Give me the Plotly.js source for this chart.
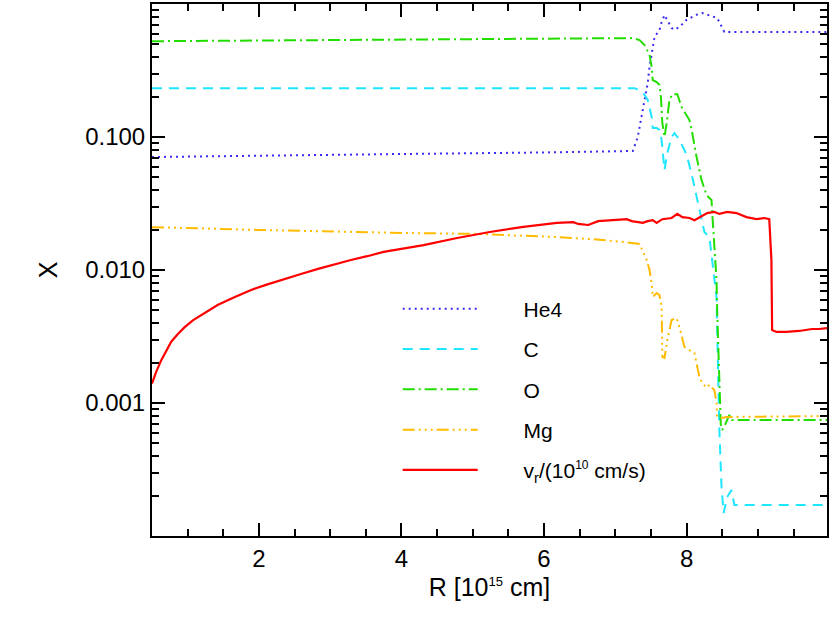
<!DOCTYPE html>
<html>
<head>
<meta charset="utf-8">
<script src="https://cdn.plot.ly/plotly-3.0.1.min.js"></script>
<style>html,body{margin:0;padding:0;background:#fff;}#chart{width:830px;height:624px;}</style>
</head>
<body>
<div id="chart"></div>
<script>
// ---- data ----
const seriesNames = ["He4", "C", "O", "Mg", "v<sub>r</sub>/(10<sup><span style=\"font-size:12px\">10</span></sup> cm/s)"];

const he4X = [0.5, 2, 4, 6, 7.0, 7.245, 7.315, 7.37, 7.41, 7.455, 7.48, 7.52, 7.55, 7.62, 7.65, 7.69, 7.73, 7.79, 7.83, 7.90, 8.0, 8.14, 8.22, 8.32, 8.43, 8.53, 9.98];
const he4Y = [0.0707, 0.0725, 0.0745, 0.0765, 0.078, 0.0785, 0.1, 0.141, 0.19, 0.255, 0.336, 0.451, 0.565, 0.638, 0.733, 0.826, 0.759, 0.66, 0.64, 0.671, 0.76, 0.83, 0.855, 0.82, 0.785, 0.617, 0.617];

const cX = [0.5, 7.27, 7.385, 7.455, 7.51, 7.525, 7.58, 7.62, 7.65, 7.69, 7.73, 7.79, 7.83, 7.90, 7.97, 8.01, 8.08, 8.15, 8.18, 8.25, 8.32, 8.36, 8.42, 8.43, 8.44, 8.46, 8.49, 8.52, 8.57, 8.63, 8.67, 9.98];
const cY = [0.233, 0.233, 0.218, 0.19, 0.141, 0.117, 0.117, 0.113, 0.095, 0.0565, 0.0758, 0.1, 0.107, 0.095, 0.0798, 0.0707, 0.05, 0.0336, 0.0298, 0.0193, 0.0177, 0.0113, 0.00627, 0.00336, 0.00149, 0.000627, 0.000233, 0.000149, 0.000196, 0.000222, 0.000171, 0.000171];

const oX = [0.5, 2, 4, 6, 7.0, 7.245, 7.34, 7.41, 7.48, 7.51, 7.525, 7.58, 7.62, 7.64, 7.66, 7.69, 7.72, 7.76, 7.80, 7.87, 7.93, 8.0, 8.04, 8.08, 8.14, 8.21, 8.28, 8.32, 8.35, 8.36, 8.39, 8.42, 8.43, 8.46, 8.48, 8.50, 8.54, 8.60, 8.64, 9.98];
const oY = [0.525, 0.53, 0.538, 0.547, 0.552, 0.554, 0.536, 0.492, 0.414, 0.336, 0.268, 0.259, 0.246, 0.2, 0.127, 0.1, 0.127, 0.19, 0.21, 0.21, 0.168, 0.146, 0.134, 0.107, 0.0707, 0.0475, 0.0366, 0.0348, 0.0336, 0.0268, 0.0149, 0.0084, 0.00475, 0.00149, 0.000684, 0.000627, 0.000684, 0.000813, 0.000745, 0.000745];

const mgX = [0.5, 2, 4, 5.01, 6.18, 6.5, 6.64, 7.1, 7.34, 7.44, 7.48, 7.51, 7.525, 7.58, 7.62, 7.65, 7.66, 7.69, 7.73, 7.79, 7.86, 7.90, 7.97, 8.04, 8.11, 8.15, 8.18, 8.22, 8.28, 8.32, 8.39, 8.42, 8.43, 8.49, 8.56, 9.98];
const mgY = [0.021, 0.0200, 0.019, 0.0187, 0.0177, 0.0174, 0.0171, 0.0163, 0.0157, 0.0119, 0.01, 0.00798, 0.00627, 0.00671, 0.00649, 0.00527, 0.00222, 0.00218, 0.00298, 0.00421, 0.00435, 0.00372, 0.00264, 0.0025, 0.00238, 0.00187, 0.00157, 0.00141, 0.0013, 0.00137, 0.00125, 0.001, 0.000785, 0.000772, 0.000785, 0.000798];

const vrX = [0.5, 0.56, 0.63, 0.70, 0.77, 0.863, 0.955, 1.073, 1.19, 1.305, 1.42, 1.655, 1.89, 2.12, 2.35, 2.59, 2.83, 3.05, 3.29, 3.52, 3.75, 4.31, 4.78, 5.24, 5.71, 6.18, 6.41, 6.48, 6.62, 6.76, 6.92, 7.16, 7.23, 7.34, 7.385, 7.455, 7.525, 7.58, 7.66, 7.79, 7.87, 7.94, 8.04, 8.11, 8.18, 8.29, 8.39, 8.46, 8.57, 8.70, 8.84, 8.98, 9.09, 9.16, 9.19, 9.20, 9.26, 9.40, 9.58, 9.76, 9.86, 9.97];
const vrY = [0.0014, 0.00172, 0.0021, 0.0025, 0.00289, 0.00330, 0.00370, 0.00418, 0.00459, 0.0050, 0.00546, 0.00624, 0.00708, 0.0078, 0.00855, 0.00933, 0.0102, 0.011, 0.0119, 0.0127, 0.0137, 0.0154, 0.0174, 0.0193, 0.0211, 0.0226, 0.0229, 0.0222, 0.0218, 0.0233, 0.0237, 0.0241, 0.0233, 0.0229, 0.0226, 0.0233, 0.0237, 0.0226, 0.0241, 0.0246, 0.0264, 0.025, 0.0246, 0.0237, 0.025, 0.0268, 0.0273, 0.0264, 0.0273, 0.0268, 0.025, 0.0241, 0.0246, 0.0241, 0.0119, 0.00354, 0.00342, 0.00342, 0.00348, 0.0036, 0.0036, 0.00366];

const yTickVals = [0.001, 0.01, 0.1];
const yTickText = ["0.001", "0.010", "0.100"];

// ---- styles ----
const FONT = "Liberation Sans, Arial, Helvetica, sans-serif";
const colors = ["#3a2cf0", "#1ee6ff", "#22dd00", "#ffbb00", "#ff0000"];
const dashes = ["2px,4px", "10px,7px", "12px,4px,2px,4px", "12px,4px,2px,4px,2px,4px,2px,4px", "solid"];
const xs = [he4X, cX, oX, mgX, vrX];
const ys = [he4Y, cY, oY, mgY, vrY];
const PAD = "&nbsp;&nbsp;&nbsp;&nbsp;&nbsp;&nbsp;&nbsp;";

const traces = seriesNames.map((n, i) => ({
  x: xs[i], y: ys[i], name: PAD + n, type: "scatter", mode: "lines",
  legendgroup: "g" + i,
  line: {color: colors[i], width: i === 4 ? 2.2 : 2, dash: dashes[i]}
}));

// minor ticks for the log axis (2..9 of each decade)
const yMinor = [];
for (let e = -4; e < 0; e++) for (let m = 2; m <= 9; m++) yMinor.push(m * Math.pow(10, e));

const layout = {
  width: 830, height: 624,
  margin: {l: 152, r: 3, t: 4, b: 88},
  paper_bgcolor: "#fff", plot_bgcolor: "#fff",
  font: {family: FONT, size: 22, color: "#000"},
  showlegend: true,
  legend: {
    x: 0.364, y: 0.465, xanchor: "left", yanchor: "top",
    bgcolor: "rgba(0,0,0,0)", borderwidth: 0,
    font: {family: FONT, size: 21, color: "#000"},
    itemwidth: 75, tracegroupgap: 10
  },
  xaxis: {
    range: [0.5, 9.97], showgrid: false, zeroline: false,
    showline: true, linecolor: "#000", linewidth: 2, mirror: "allticks",
    ticks: "inside", ticklen: 13, tickwidth: 2, tickcolor: "#000",
    tick0: 0, dtick: 2,
    tickfont: {family: FONT, size: 24},
    minor: {ticks: "inside", ticklen: 7, tickwidth: 2, tickcolor: "#000", tick0: 0, dtick: 0.5, showgrid: false},
    title: {text: "R [10<sup><span style=\"font-size:13px\">15</span></sup> cm]", font: {family: FONT, size: 25}, standoff: 8}
  },
  yaxis: {
    type: "log", range: [-4, 0], showgrid: false, zeroline: false,
    showline: true, linecolor: "#000", linewidth: 2, mirror: "allticks",
    ticks: "inside", ticklen: 13, tickwidth: 2, tickcolor: "#000",
    tickmode: "array", tickvals: yTickVals, ticktext: yTickText,
    tickfont: {family: FONT, size: 24},
    minor: {ticks: "inside", ticklen: 7, tickwidth: 2, tickcolor: "#000", tickmode: "array", tickvals: yMinor, showgrid: false},
    title: {text: "X", font: {family: FONT, size: 25}, standoff: 20}
  }
};

Plotly.newPlot("chart", traces, layout, {displayModeBar: false, staticPlot: true});
</script>
</body>
</html>
